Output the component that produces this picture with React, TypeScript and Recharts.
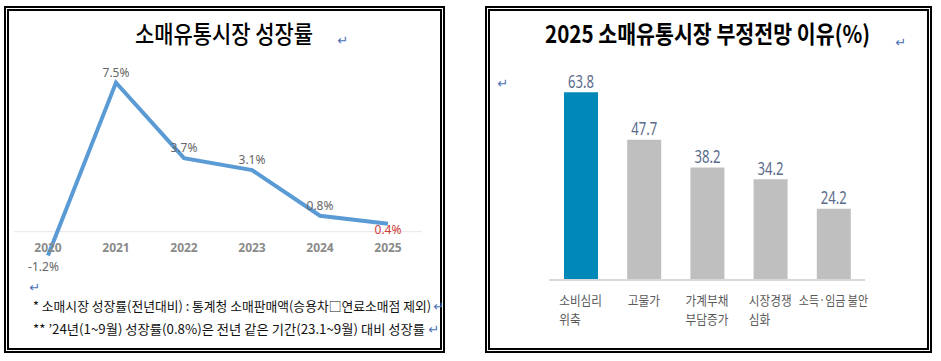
import React from 'react';
import {
  LineChart,
  Line,
  BarChart,
  Bar,
  Cell,
  XAxis,
  YAxis,
  ReferenceLine,
  LabelList,
} from 'recharts';

// left: retail growth rate by year (2025 = forecast)
const years = ['2020', '2021', '2022', '2023', '2024', '2025'];
const growthRates = [-1.2, 7.5, 3.7, 3.1, 0.8, 0.4];

// right: reasons for the negative 2025 outlook (%)
const reasons = ['소비심리\n위축', '고물가', '가계부채\n부담증가', '시장경쟁\n심화', '소득·임금 불안'];
const reasonShares = [63.8, 47.7, 38.2, 34.2, 24.2];

const leftTitle = '소매유통시장 성장률';
const rightTitle = '2025 소매유통시장 부정전망 이유(%)';
const footnotes = [
  '* 소매시장 성장률(전년대비) : 통계청 소매판매액(승용차□연료소매점 제외)',
  '** ’24년(1~9월) 성장률(0.8%)은 전년 같은 기간(23.1~9월) 대비 성장률',
];

const growthData = years.map((year, i) => ({ year, rate: growthRates[i] }));
const reasonData = reasons.map((reason, i) => ({ reason, share: reasonShares[i] }));

const KR = "'Noto Sans CJK KR', 'Noto Sans', sans-serif";
const LATIN = "'Noto Sans', 'Noto Sans CJK KR', sans-serif";
const MARK = '↵';

// rough width of a condensed hangul label
const labelWidth = (s: string) =>
  s.split('').reduce((w, c) => w + (c === ' ' || c === '·' ? 2.5 : 10.7), 0);

// horizontally squeezed text (the source uses narrow korean fonts)
const Squeezed = ({ x, y, width, sx, anchor = 'start', children, ...rest }: any) => (
  <text
    transform={`translate(${x},${y}) scale(${sx},1)`}
    textAnchor={anchor}
    textLength={width / sx}
    lengthAdjust="spacingAndGlyphs"
    {...rest}
  >
    {children}
  </text>
);

const YearTick = (props: any) => {
  const { x, y, payload } = props;
  return (
    <text x={x} y={y - 19.5} textAnchor="middle" fontSize={12} fontWeight={700} fill="#8a8a8a" fontFamily={LATIN}>
      {payload.value}
    </text>
  );
};

const RateLabel = (props: any) => {
  const { x, y, value, index } = props;
  const last = index === growthRates.length - 1;
  const below = value < 0 || last;
  return (
    <text
      x={value < 0 ? x - 4.5 : x}
      y={below ? y + (value < 0 ? 15.5 : 10) : y - 6}
      textAnchor="middle"
      fontSize={12}
      fill={last ? '#d03a3a' : '#666666'}
      fontFamily={LATIN}
    >
      {`${value}%`}
    </text>
  );
};

const ReasonTick = (props: any) => {
  const { x, y, payload } = props;
  const lines = String(payload.value).split('\n');
  const left = x - labelWidth(lines[0]) / 2;
  return (
    <g>
      {lines.map((line, i) => (
        <Squeezed
          key={i}
          x={left}
          y={y + 25 + i * 19.3}
          width={labelWidth(line)}
          sx={0.83}
          fontSize={13}
          fill="#595959"
          fontFamily={KR}
        >
          {line}
        </Squeezed>
      ))}
    </g>
  );
};

const ShareLabel = (props: any) => {
  const { x, y, width, value } = props;
  return (
    <Squeezed
      x={x + width / 2}
      y={y - 4.5}
      width={26}
      sx={0.74}
      anchor="middle"
      fontSize={18}
      fill="#5b6b8c"
      fontFamily={LATIN}
    >
      {value.toFixed(1)}
    </Squeezed>
  );
};

const panel = (left: number, width: number): React.CSSProperties => ({
  position: 'absolute',
  left,
  top: 6,
  width,
  height: 347,
  border: '5px double #000',
  boxSizing: 'border-box',
});

const App = () => {
  return (
    <div style={{ position: 'absolute', left: 0, top: 0, width: 941, height: 361, background: '#fff', overflow: 'hidden' }}>
      <div style={panel(4, 441)} />
      <div style={panel(485, 447)} />

      <div style={{ position: 'absolute', left: 0, top: 0 }}>
        <LineChart width={450} height={361} data={growthData} margin={{ top: 72.7, right: 28, bottom: 59.6, left: 14 }}>
          <XAxis
            dataKey="year"
            height={30}
            axisLine={false}
            tickLine={false}
            tickSize={0}
            tickMargin={0}
            interval={0}
            padding={{ left: 34, right: 34 }}
            tick={<YearTick />}
          />
          <YAxis hide domain={[-2, 8]} />
          <ReferenceLine y={0} stroke="#e6e6e6" strokeWidth={1} />
          <Line
            type="linear"
            dataKey="rate"
            stroke="#5b9bd5"
            strokeWidth={4}
            dot={false}
            isAnimationActive={false}
          >
            <LabelList dataKey="rate" content={<RateLabel />} />
          </Line>
        </LineChart>
      </div>

      <div style={{ position: 'absolute', left: 480, top: 0 }}>
        <BarChart width={460} height={361} data={reasonData} margin={{ top: 74, right: 75, bottom: 21, left: 69 }}>
          <XAxis
            dataKey="reason"
            height={60}
            axisLine={{ stroke: '#d9d9d9', strokeWidth: 2 }}
            tickLine={false}
            tickSize={0}
            tickMargin={0}
            interval={0}
            tick={<ReasonTick />}
          />
          <YAxis hide domain={[0, 70]} />
          <Bar dataKey="share" barSize={34} isAnimationActive={false}>
            {reasonData.map((d, i) => (
              <Cell key={d.reason} fill={i === 0 ? '#0088b8' : '#bfbfbf'} />
            ))}
            <LabelList dataKey="share" content={<ShareLabel />} />
          </Bar>
        </BarChart>
      </div>

      <svg width={941} height={361} style={{ position: 'absolute', left: 0, top: 0, pointerEvents: 'none' }}>
        <Squeezed x={224} y={43} width={178} sx={0.8} anchor="middle" fontSize={24} fontWeight={500} fontFamily={KR} fill="#000">
          {leftTitle}
        </Squeezed>
        <Squeezed x={707.5} y={43} width={325} sx={0.82} anchor="middle" fontSize={24} fontWeight={700} fontFamily={KR} fill="#000">
          {rightTitle}
        </Squeezed>
        {footnotes.map((line, i) => (
          <Squeezed
            key={i}
            x={33}
            y={310.5 + i * 23}
            width={i === 0 ? 398 : 392}
            sx={i === 0 ? 0.9 : 0.98}
            fontSize={13}
            fontFamily={KR}
            fill="#111"
          >
            {line}
          </Squeezed>
        ))}
        {[
          [343, 45],
          [901, 46.5],
          [503, 87.5],
          [35, 291.5],
          [439, 311],
          [434, 334],
        ].map(([x, y], i) => (
          <text key={i} x={x} y={y} textAnchor="middle" fontSize={13} fontFamily="'DejaVu Sans'" fill="#4a6fb5">
            {MARK}
          </text>
        ))}
      </svg>
    </div>
  );
};

export default App;
